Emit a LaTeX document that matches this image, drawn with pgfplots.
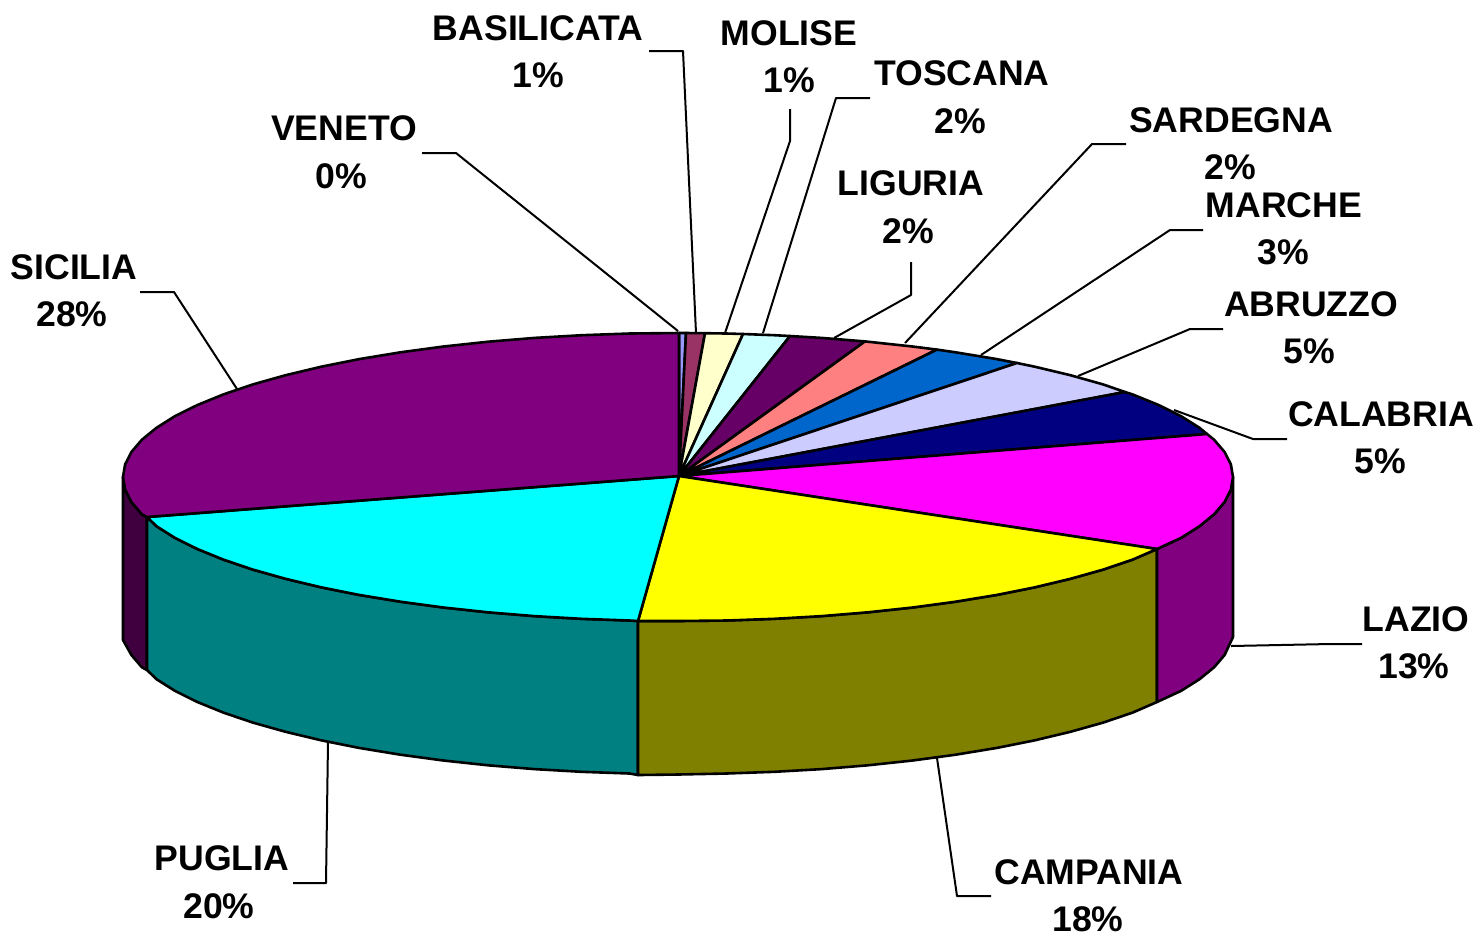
\documentclass[border=0pt]{standalone}
\usepackage{pgfplots}
\pgfplotsset{compat=1.18}
\usepackage{fontspec}
\setmainfont{Liberation Sans}
\definecolor{cVen}{HTML}{9999FF}
\definecolor{cBas}{HTML}{993366}
\definecolor{cMol}{HTML}{FFFFCC}
\definecolor{cTos}{HTML}{CCFFFF}
\definecolor{cLig}{HTML}{660066}
\definecolor{cSar}{HTML}{FF8080}
\definecolor{cMar}{HTML}{0066CC}
\definecolor{cAbr}{HTML}{CCCCFF}
\definecolor{cCal}{HTML}{000080}
\definecolor{cLaz}{HTML}{FF00FF}
\definecolor{cCam}{HTML}{FFFF00}
\definecolor{cPug}{HTML}{00FFFF}
\definecolor{cSic}{HTML}{800080}
\definecolor{sLaz}{HTML}{800080}
\definecolor{sCam}{HTML}{808000}
\definecolor{sPug}{HTML}{008080}
\definecolor{sSic}{HTML}{400040}
\tikzset{lb/.style={anchor=base, inner sep=0pt, yshift=.5pt, font=\fontsize{17.8}{22}\selectfont\bfseries}}
\newcommand\lab[6]{%
  \node[lb] at (axis cs:#1,#2) {#3};
  \node[lb] at (axis cs:#4,#5) {#6};}
\begin{document}
\begin{tikzpicture}
\path[use as bounding box] (0,0) rectangle (739pt,467pt);
\begin{axis}[
  at={(0,0)}, anchor=south west,
  scale only axis, width=739pt, height=467pt,
  xmin=0, xmax=1478, ymin=0, ymax=934, y dir=reverse,
  hide axis, clip=false,
  every axis plot/.append style={line join=round},
]
% --- side faces
\addplot[fill=sSic, draw=black, line width=1.3pt] coordinates {
 (147,517) (141.9,514.3) (131.4,502) (125.1,489.6) (123,477) (123,640) (131.4,655) (141.9,667.3) (147,670)} --cycle;
\addplot[fill=sPug, draw=black, line width=1.3pt] coordinates {
 (147,517) (156.5,526.2) (175,537.9) (197.4,549) (223.4,559.6) (252.9,569.6) (285.6,578.8) (321.2,587.3) (359.7,595) (400.5,601.7) (443.4,607.5) (488.2,612.3) (534.4,616.1) (581.6,618.8) (629.6,620.5) (638,621)
 (638,775) (629.6,773.5) (581.6,771.8) (534.4,769.1) (488.2,765.3) (443.4,760.5) (400.5,754.7) (359.7,748) (321.2,740.3) (285.6,731.8) (252.9,722.6) (223.4,712.6) (197.4,702) (175,690.9) (156.5,679.2) (147,670)} --cycle;
\addplot[fill=sCam, draw=black, line width=1.3pt] coordinates {
 (638,621) (678,621) (726.4,620.5) (774.4,618.8) (821.6,616.1) (867.8,612.3) (912.6,607.5) (955.5,601.7) (996.3,595) (1034.8,587.3) (1070.4,578.8) (1103.1,569.6) (1132.6,559.6) (1157,549)
 (1157,702) (1132.6,712.6) (1103.1,722.6) (1070.4,731.8) (1034.8,740.3) (996.3,748) (955.5,754.7) (912.6,760.5) (867.8,765.3) (821.6,769.1) (774.4,771.8) (726.4,773.5) (678,774.5) (638,775)} --cycle;
\addplot[fill=sLaz, draw=black, line width=1.3pt] coordinates {
 (1157,549) (1181,537.9) (1199.5,526.2) (1214.1,514.3) (1224.6,502) (1230.9,489.6) (1233,477)
 (1233,637) (1224.6,655) (1214.1,667.3) (1199.5,679.2) (1181,690.9) (1157,702)} --cycle;
% --- top wedges
\addplot[fill=cVen, draw=black, line width=1.3pt] coordinates {(679,476) (679,333) (686,333)} --cycle;
\addplot[fill=cBas, draw=black, line width=1.3pt] coordinates {(679,476) (686,333) (705,333.2)} --cycle;
\addplot[fill=cMol, draw=black, line width=1.3pt] coordinates {(679,476) (705,333.2) (726.4,333.5) (743,334)} --cycle;
\addplot[fill=cTos, draw=black, line width=1.3pt] coordinates {(679,476) (743,334) (774.4,335.2) (790,336)} --cycle;
\addplot[fill=cLig, draw=black, line width=1.3pt] coordinates {(679,476) (790,336) (821.6,337.9) (865,341.4)} --cycle;
\addplot[fill=cSar, draw=black, line width=1.3pt] coordinates {(679,476) (865,341.4) (912.6,346.5) (937,349.6)} --cycle;
\addplot[fill=cMar, draw=black, line width=1.3pt] coordinates {(679,476) (937,349.6) (955.5,352.3) (996.3,359) (1017,363)} --cycle;
\addplot[fill=cAbr, draw=black, line width=1.3pt] coordinates {(679,476) (1017,363) (1034.8,366.7) (1070.4,375.2) (1103.1,384.4) (1125,392)} --cycle;
\addplot[fill=cCal, draw=black, line width=1.3pt] coordinates {(679,476) (1125,392) (1132.6,394.4) (1158.6,405) (1181,416.1) (1199.5,427.8) (1207,434)} --cycle;
\addplot[fill=cLaz, draw=black, line width=1.3pt] coordinates {(679,476) (1207,434) (1214.1,439.7) (1224.6,452) (1230.9,464.4) (1233,477) (1230.9,489.6) (1224.6,502) (1214.1,514.3) (1199.5,526.2) (1181,537.9) (1157,549)} --cycle;
\addplot[fill=cCam, draw=black, line width=1.3pt] coordinates {(679,476) (1157,549) (1132.6,559.6) (1103.1,569.6) (1070.4,578.8) (1034.8,587.3) (996.3,595) (955.5,601.7) (912.6,607.5) (867.8,612.3) (821.6,616.1) (774.4,618.8) (726.4,620.5) (678,621) (638,621)} --cycle;
\addplot[fill=cPug, draw=black, line width=1.3pt] coordinates {(679,476) (638,621) (629.6,620.5) (581.6,618.8) (534.4,616.1) (488.2,612.3) (443.4,607.5) (400.5,601.7) (359.7,595) (321.2,587.3) (285.6,578.8) (252.9,569.6) (223.4,559.6) (197.4,549) (175,537.9) (156.5,526.2) (147,517)} --cycle;
\addplot[fill=cSic, draw=black, line width=1.3pt] coordinates {(679,476) (147,517) (141.9,514.3) (131.4,502) (125.1,489.6) (123,477) (125.1,464.4) (131.4,452) (141.9,439.7) (156.5,427.8) (175,416.1) (197.4,405) (223.4,394.4) (252.9,384.4) (285.6,375.2) (321.2,366.7) (359.7,359) (400.5,352.3) (443.4,346.5) (488.2,341.7) (534.4,337.9) (581.6,335.2) (629.6,333.5) (679,333)} --cycle;
% --- leader lines
\addplot[black, line width=1pt] coordinates {(649,51) (683,51) (696,333)};
\addplot[black, line width=1pt] coordinates {(790,109) (790,141) (725,333)};
\addplot[black, line width=1pt] coordinates {(870,98) (836,98) (763,333)};
\addplot[black, line width=1pt] coordinates {(422,153) (456,153) (678,331)};
\addplot[black, line width=1pt] coordinates {(911,262) (911,295) (834,338)};
\addplot[black, line width=1pt] coordinates {(1126,144) (1092,144) (905,343)};
\addplot[black, line width=1pt] coordinates {(1203,230) (1170,230) (981,355)};
\addplot[black, line width=1pt] coordinates {(1223,329) (1190,329) (1078,376)};
\addplot[black, line width=1pt] coordinates {(1287,439) (1253,439) (1174,410)};
\addplot[black, line width=1pt] coordinates {(140,292) (174,292) (237,389)};
\addplot[black, line width=1pt] coordinates {(1362,644) (1330,644) (1231,646)};
\addplot[black, line width=1pt] coordinates {(991,896) (957,896) (937,758)};
\addplot[black, line width=1pt] coordinates {(293,883) (326,883) (328,742)};
% --- labels
\lab{538}{41}{BASILICATA}{538}{88}{1\%}
\lab{789}{46}{MOLISE}{789}{93}{1\%}
\lab{962}{86}{TOSCANA}{960}{134}{2\%}
\lab{344}{141}{VENETO}{341}{189}{0\%}
\lab{911}{196}{LIGURIA}{908}{244}{2\%}
\lab{1231}{133}{SARDEGNA}{1230}{180}{2\%}
\lab{1284}{218}{MARCHE}{1283}{265}{3\%}
\lab{1311}{317}{ABRUZZO}{1309}{364}{5\%}
\lab{1381}{427}{CALABRIA}{1380}{474}{5\%}
\lab{74}{280}{SICILIA}{72}{327}{28\%}
\lab{1416}{632}{LAZIO}{1414}{679}{13\%}
\lab{1089}{885}{CAMPANIA}{1088}{932}{18\%}
\lab{222}{871}{PUGLIA}{219}{919}{20\%}
\end{axis}
\end{tikzpicture}
\end{document}
